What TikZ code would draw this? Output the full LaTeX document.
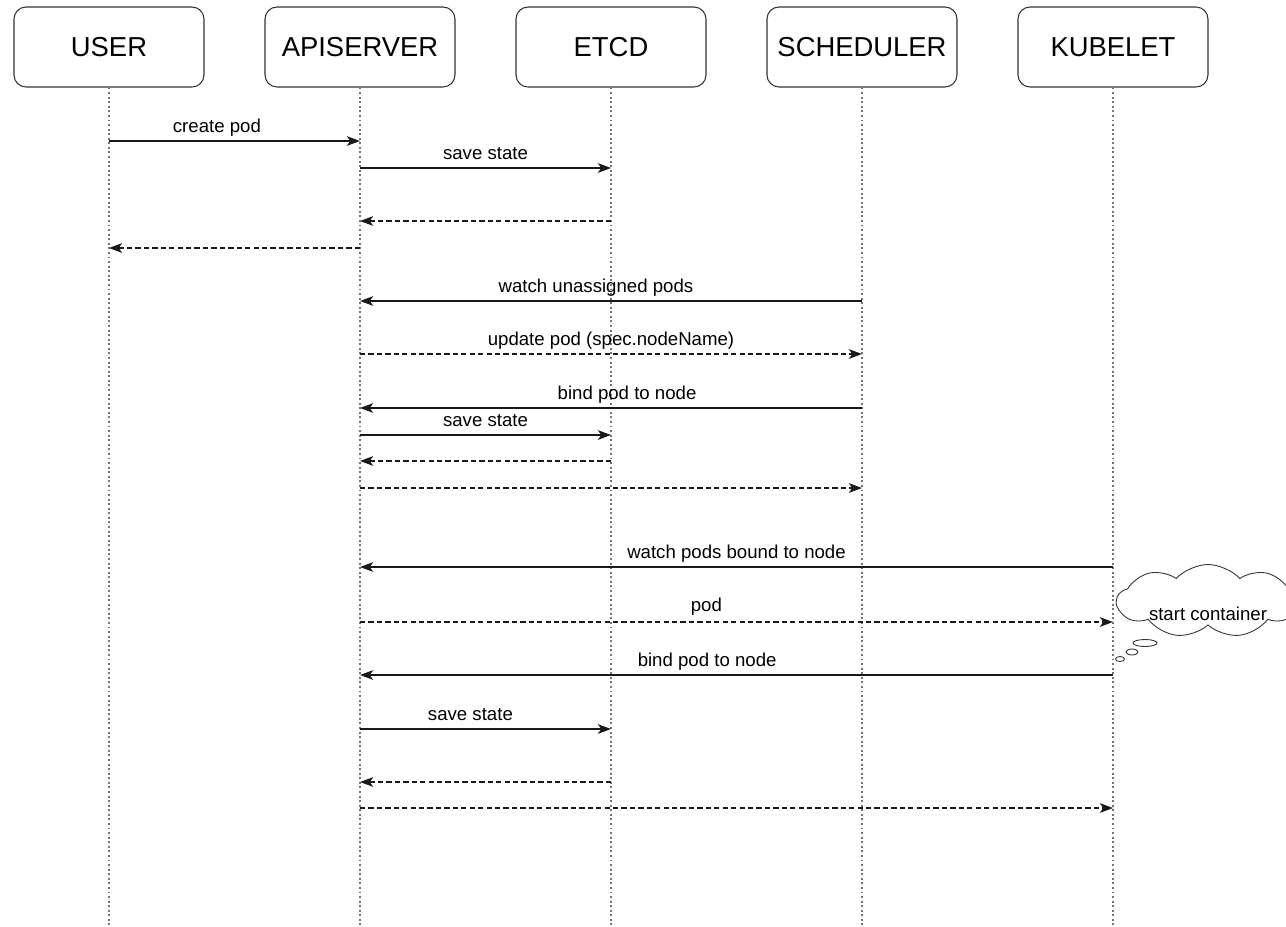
\documentclass[tikz,border=0pt]{standalone}
\usepackage{fontspec}
\setmainfont{Liberation Sans}
\usetikzlibrary{arrows.meta,shapes.symbols}

\tikzset{
  actor/.style={draw=black!80, line width=0.6pt, rounded corners=0.24cm, minimum width=3.8cm, minimum height=1.6cm, font=\fontsize{15.6}{18}\selectfont},
  lifeline/.style={draw=black!55, line width=1.2pt, dash pattern=on 1.1pt off 1.5pt},
  call/.style={draw=black!90, line width=0.7pt, -{Stealth[length=7.5pt,width=5.5pt,inset=2pt]}},
  reply/.style={call, dash pattern=on 3pt off 1.8pt},
  txt/.style={font=\fontsize{10.6}{12}\selectfont, inner sep=0pt},
  msg/.style={txt, anchor=base, yshift=4.6pt},
}

\begin{document}
\begin{tikzpicture}[x=0.02cm, y=-0.02cm]
\useasboundingbox (0,0) rectangle (1286,927);

% participants
\node[actor] (user) at (109,47) {USER};
\node[actor] (api) at (360,47) {APISERVER};
\node[actor] (etcd) at (611,47) {ETCD};
\node[actor] (sched) at (862,47) {SCHEDULER};
\node[actor] (kube) at (1113,47) {KUBELET};

\foreach \n/\x in {user/109, api/360, etcd/611, sched/862, kube/1113} {
  \coordinate (\n-end) at (\x,927);
  \draw[lifeline] (\n.south) -- (\n-end);
}

% message rows
\coordinate (r1) at (0,141);
\coordinate (r2) at (0,168);
\coordinate (r3) at (0,221);
\coordinate (r4) at (0,248);
\coordinate (r5) at (0,301);
\coordinate (r6) at (0,354);
\coordinate (r7) at (0,408);
\coordinate (r8) at (0,435);
\coordinate (r9) at (0,461);
\coordinate (r10) at (0,488);
\coordinate (r11) at (0,567);
\coordinate (r12) at (0,622);
\coordinate (r13) at (0,675);
\coordinate (r14) at (0,729);
\coordinate (r15) at (0,782);
\coordinate (r16) at (0,808);

% create
\draw[call] (user |- r1) -- node[msg, pos=0.43] {create pod} (api |- r1);
\draw[call] (api |- r2) -- node[msg, pos=0.5] {save state} (etcd |- r2);
\draw[reply] (etcd |- r3) -- (api |- r3);
\draw[reply] (api |- r4) -- (user |- r4);

% schedule
\draw[call] (sched |- r5) -- node[msg, pos=0.53] {watch unassigned pods} (api |- r5);
\draw[reply] (api |- r6) -- node[msg, pos=0.5] {update pod (spec.nodeName)} (sched |- r6);
\draw[call] (sched |- r7) -- node[msg, pos=0.468] {bind pod to node} (api |- r7);
\draw[call] (api |- r8) -- node[msg, pos=0.5] {save state} (etcd |- r8);
\draw[reply] (etcd |- r9) -- (api |- r9);
\draw[reply] (api |- r10) -- (sched |- r10);

% kubelet
\draw[call] (kube |- r11) -- node[msg, pos=0.5] {watch pods bound to node} (api |- r11);
\draw[reply] (api |- r12) -- node[msg, pos=0.46, yshift=1.5pt] {pod} (kube |- r12);
\draw[call] (kube |- r13) -- node[msg, pos=0.539] {bind pod to node} (api |- r13);
\draw[call] (api |- r14) -- node[msg, pos=0.44] {save state} (etcd |- r14);
\draw[reply] (etcd |- r15) -- (api |- r15);
\draw[reply] (api |- r16) -- (kube |- r16);

% thought
\node[cloud, draw=black!80, line width=0.5pt, fill=white, cloud puffs=9, cloud puff arc=95, aspect=2.5, minimum width=3.64cm, minimum height=1.46cm, inner sep=0pt] (thought) at (1208,601) {};
\node[txt] (thought-text) at (1208,614) {start container};
\draw[black!80, line width=0.5pt, fill=white] (1145,643) ellipse (0.24cm and 0.07cm);
\draw[black!80, line width=0.5pt, fill=white] (1132,652) ellipse (0.12cm and 0.06cm);
\draw[black!80, line width=0.5pt, fill=white] (1120,659) ellipse (0.09cm and 0.05cm);
\end{tikzpicture}
\end{document}
